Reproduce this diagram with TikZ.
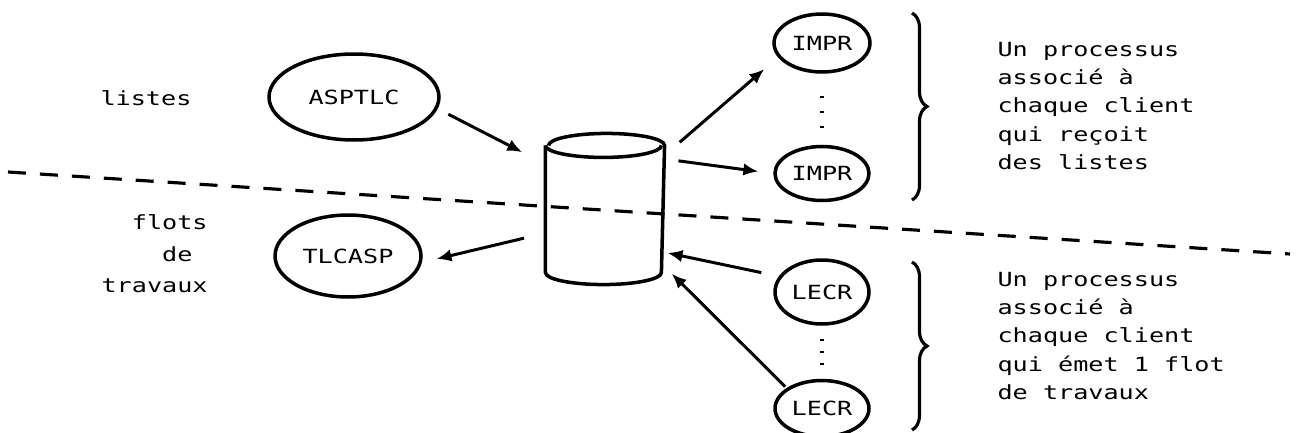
\documentclass[tikz,border=0pt]{standalone}
\usepackage{fontspec}
\setmonofont{DejaVu Sans Mono}[FakeStretch=1.29]
\usetikzlibrary{arrows.meta,positioning,shapes.geometric,decorations.pathreplacing}

\begin{document}
\begin{tikzpicture}[x=0.02cm,y=-0.02cm,>={Latex[length=3mm,width=2.5mm]},line width=1.8pt,
  every node/.style={font=\ttfamily\fontsize{11.1}{16.2}\selectfont}]
\tikzstyle{proc}=[ellipse,draw,line width=2pt,inner sep=0pt]
\tikzstyle{note}=[inner sep=0pt,align=left]
\tikzstyle{arr}=[->,line width=1.7pt]
\tikzstyle{vdots}=[line width=2.2pt,dash pattern=on 0.05cm off 0.25cm]
\useasboundingbox (0,0) rectangle (1296,433);
% separation line
\draw[dash pattern=on 0.36cm off 0.28cm] (8,172) -- (1290,254);
\node[note] (listes) at (146,98) {listes};
\node[note,anchor=west,font=\ttfamily\fontsize{11.1}{18}\selectfont] (flots) at (100,254) {\hphantom{tr}flots\\\hphantom{trav}de\\travaux};
\node[proc,minimum width=3.4cm,minimum height=1.72cm] (asptlc) at (354,97) {ASPTLC};
\node[proc,minimum width=2.92cm,minimum height=1.64cm] (tlcasp) at (348,256) {TLCASP};
\node[minimum width=2.32cm,minimum height=2.96cm] (db) at (605,209) {};
\node[proc,minimum width=1.92cm,minimum height=1.16cm] (impr1) at (822,43) {IMPR};
\node[proc,minimum width=1.88cm,minimum height=1.08cm,below=1.42cm of impr1] (impr2) {IMPR};
\node[proc,minimum width=1.88cm,minimum height=1.28cm] (lecr1) at (822,292) {LECR};
\node[proc,minimum width=1.88cm,minimum height=1.12cm,below=1.06cm of lecr1] (lecr2) {LECR};
\node[note,anchor=west] (recoit) at (996,106) {Un processus\\associé à\\chaque client\\qui reçoit\\des listes};
\node[note,anchor=west] (emet) at (996,336) {Un processus\\associé à\\chaque client\\qui émet 1 flot\\de travaux};
% the disc
\draw[line width=2pt] ([yshift=-0.24cm]db.north west) -- ([yshift=0.24cm]db.south west)
  arc[start angle=180,end angle=360,x radius=1.16cm,y radius=0.24cm]
  -- ([yshift=-0.24cm]db.north east)
  arc[start angle=0,end angle=180,x radius=1.16cm,y radius=0.24cm];
\draw[line width=2pt] ([yshift=-0.24cm]db.north west)
  arc[start angle=180,end angle=360,x radius=1.16cm,y radius=0.24cm];
% arrows
\draw[arr,shorten <=0.24cm,shorten >=0.52cm] (asptlc.-8) -- (db.143);
\draw[arr,shorten <=0.44cm,shorten >=0.3cm] (db.202) -- (tlcasp.-5);
\draw[arr,shorten <=0.4cm,shorten >=0.36cm] (db.42) -- (impr1.198);
\draw[arr,shorten <=0.28cm,shorten >=0.3cm] (db.40) -- (impr2.180);
\draw[arr,shorten <=0.36cm,shorten >=0.06cm] (lecr1.160) -- (db.-36);
\draw[arr,shorten <=0.04cm,shorten >=0.2cm] (lecr2.150) -- (db.-44);
% dots and braces
\draw[vdots,shorten <=0.44cm,shorten >=0.28cm] (impr1) -- (impr2);
\draw[vdots,shorten <=0.26cm,shorten >=0.16cm,dash pattern=on 0.05cm off 0.19cm] (lecr1) -- (lecr2);
\draw[decorate,decoration={brace,amplitude=0.3cm}] (912,13) -- (912,200);
\draw[decorate,decoration={brace,amplitude=0.3cm}] (912,262) -- (912,430);
\end{tikzpicture}
\end{document}
